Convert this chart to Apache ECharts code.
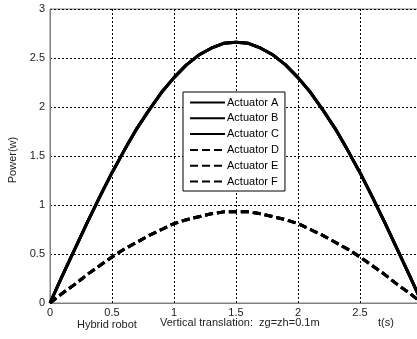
<!DOCTYPE html>
<html>
<head>
<meta charset="utf-8">
<script src="https://cdn.jsdelivr.net/npm/echarts@6/dist/echarts.min.js"></script>
<style>
  html, body { margin: 0; padding: 0; background: #fff; }
  #chart { width: 417px; height: 339px; }
</style>
</head>
<body>
<div id="chart"></div>
<script>
// time samples t(s)
const times = [0, 0.1, 0.2, 0.3, 0.4, 0.5, 0.6, 0.7, 0.8, 0.9, 1.0, 1.1, 1.2, 1.3, 1.4, 1.5,
  1.6, 1.7, 1.8, 1.9, 2.0, 2.1, 2.2, 2.3, 2.4, 2.5, 2.6, 2.7, 2.8, 2.9, 3.0]

// actuators A, B, C overlap (solid)
const powerABC = [0, 0.28, 0.55, 0.82, 1.08, 1.33, 1.56, 1.78, 1.97, 2.15, 2.30, 2.43, 2.53, 2.60, 2.65, 2.66,
  2.65, 2.60, 2.53, 2.43, 2.30, 2.15, 1.97, 1.78, 1.56, 1.33, 1.08, 0.82, 0.55, 0.28, 0]

// actuators D, E, F overlap (dashed)
const powerDEF = [0, 0.10, 0.19, 0.29, 0.38, 0.47, 0.55, 0.62, 0.69, 0.75, 0.81, 0.85, 0.88, 0.91, 0.93, 0.93,
  0.93, 0.91, 0.88, 0.85, 0.81, 0.75, 0.69, 0.62, 0.55, 0.47, 0.38, 0.29, 0.19, 0.10, 0]

const names = ['Actuator A', 'Actuator B', 'Actuator C', 'Actuator D', 'Actuator E', 'Actuator F']
const xTicks = [0, 0.5, 1, 1.5, 2, 2.5, 3]
const yTicks = [0, 0.5, 1, 1.5, 2, 2.5, 3]

const font = 'Liberation Sans, Arial, sans-serif'

const makeSeries = (name, values, dashed) => ({
  name,
  type: 'line',
  data: times.map((t, i) => [t, values[i]]),
  showSymbol: false,
  symbol: 'none',
  lineStyle: { color: '#000', width: 3, type: dashed ? [8, 4] : 'solid' },
  itemStyle: { color: '#000' },
  z: 3
})

const chart = echarts.init(document.getElementById('chart'), null, { renderer: 'canvas' })

chart.setOption({
  animation: false,
  backgroundColor: '#fff',
  grid: {
    left: 50, top: 9, width: 372, height: 294,
    outerBoundsMode: 'none',
    containLabel: false,
    show: true, borderColor: '#808080', borderWidth: 1
  },
  xAxis: {
    type: 'value',
    min: 0, max: 3, interval: 0.5,
    axisLine: { show: true, lineStyle: { color: '#808080' } },
    axisTick: { show: false },
    axisLabel: {
      color: '#222', fontFamily: font, fontSize: 11, margin: 4,
      formatter: v => xTicks.includes(v) ? String(v) : ''
    },
    splitLine: { show: true, lineStyle: { color: '#000', width: 1, type: [2, 2] } }
  },
  yAxis: {
    type: 'value',
    min: 0, max: 3, interval: 0.5,
    axisLine: { show: true, lineStyle: { color: '#808080' } },
    axisTick: { show: false },
    axisLabel: {
      color: '#222', fontFamily: font, fontSize: 11, margin: 5,
      formatter: v => yTicks.includes(v) ? String(v) : ''
    },
    splitLine: { show: true, lineStyle: { color: '#000', width: 1, type: [2, 2] } }
  },
  legend: {
    orient: 'vertical',
    left: 183, top: 92,
    data: names,
    itemWidth: 35, itemHeight: 12,
    itemGap: 4.8,
    padding: [5, 6, 4, 6],
    backgroundColor: '#fff',
    borderColor: '#000', borderWidth: 1,
    itemStyle: { opacity: 0 },
    textStyle: { color: '#000', fontFamily: font, fontSize: 11, padding: [0, 0, 0, -3] }
  },
  graphic: [
    { type: 'text', x: 13, y: 160, rotation: Math.PI / 2,
      style: { text: 'Power(w)', font: '11px ' + font, fill: '#222', align: 'center', verticalAlign: 'middle' } },
    { type: 'text', x: 77, y: 319,
      style: { text: 'Hybrid robot', font: '11px ' + font, fill: '#222' } },
    { type: 'text', x: 160, y: 317,
      style: { text: 'Vertical translation:  zg=zh=0.1m', font: '11px ' + font, fill: '#222' } },
    { type: 'text', x: 378, y: 317,
      style: { text: 't(s)', font: '11px ' + font, fill: '#222' } }
  ],
  series: [
    makeSeries(names[0], powerABC, false),
    makeSeries(names[1], powerABC, false),
    makeSeries(names[2], powerABC, false),
    makeSeries(names[3], powerDEF, true),
    makeSeries(names[4], powerDEF, true),
    makeSeries(names[5], powerDEF, true)
  ]
})
</script>
</body>
</html>
